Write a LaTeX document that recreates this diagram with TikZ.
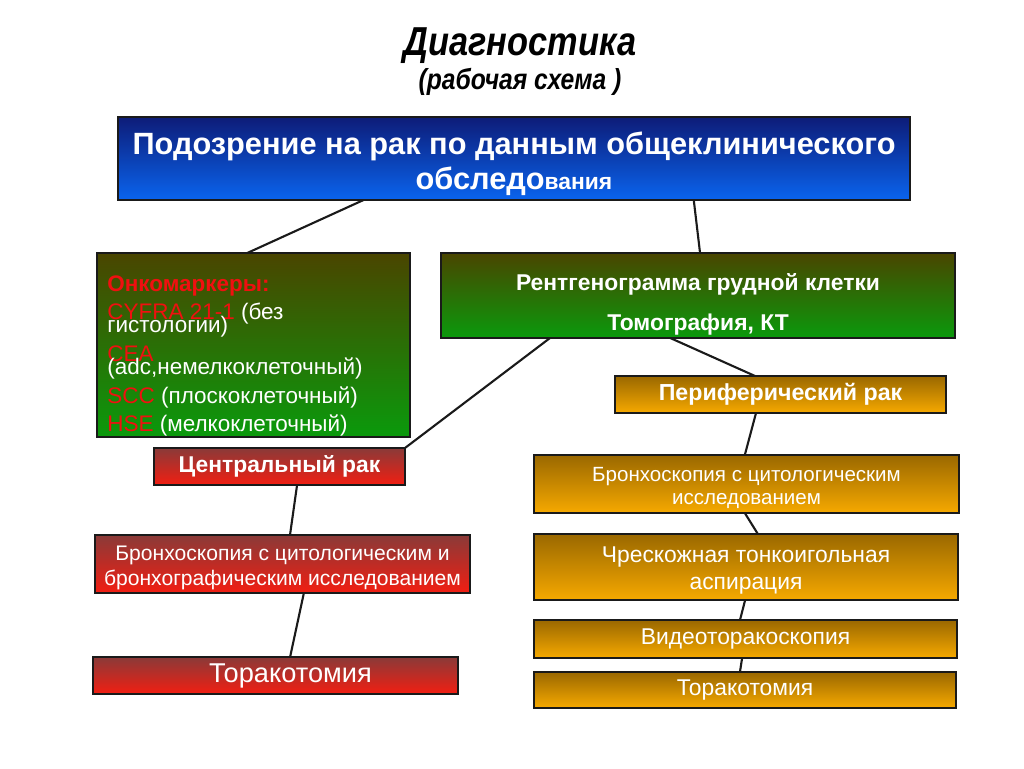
\documentclass[tikz,border=0pt]{standalone}
\usepackage{fontspec}
\setmainfont{Liberation Sans}
\usepackage{tikz}
\usetikzlibrary{calc, positioning}
\definecolor{Ink}{HTML}{1A1A1A}
\definecolor{BlueTop}{HTML}{0D1C78}
\definecolor{BlueBot}{HTML}{0A64EE}
\definecolor{GreenTop}{HTML}{4A4500}
\definecolor{GreenBot}{HTML}{0A9A0C}
\definecolor{AmberTop}{HTML}{9A6800}
\definecolor{AmberBot}{HTML}{F6A900}
\definecolor{RedTop}{HTML}{8A3A38}
\definecolor{RedBot}{HTML}{F21E12}
\definecolor{Marker}{HTML}{F01010}
\newcommand{\tightlines}{\setlength{\lineskiplimit}{-100pt}}

\begin{document}
\begin{tikzpicture}[
  x=0.02cm, y=-0.02cm,
  box/.style={draw=Ink, line width=0.8pt, inner sep=1pt, outer sep=0pt, align=center, text=white},
  start/.style={box, top color=BlueTop, bottom color=BlueBot},
  exam/.style={box, top color=GreenTop, bottom color=GreenBot},
  central/.style={box, top color=RedTop, bottom color=RedBot},
  periph/.style={box, top color=AmberTop, bottom color=AmberBot},
  link/.style={draw=Ink, line width=1.2pt}
]
\useasboundingbox (0,0) rectangle (1024,768);

\node[font=\fontsize{23}{26}\selectfont\bfseries\itshape\addfontfeature{FakeStretch=0.85}] (title) at (520,46) {Диагностика};
\node[font=\fontsize{16.5}{18}\selectfont\bfseries\itshape\addfontfeature{FakeStretch=0.85}] (subtitle) at (520,82) {(рабочая схема )};

\node[start, minimum width=15.84cm, minimum height=1.66cm, font=\fontsize{17.5}{20}\selectfont\bfseries] (susp) at (514,158.5)
  {\rule{0pt}{19pt}Подозрение на рак по данным общеклинического\\обследо{\fontsize{13}{20}\selectfont вания}};

\node[exam, minimum width=6.26cm, minimum height=3.68cm] (mark) at (253.5,345) {};
\node[anchor=north west, inner sep=0pt, align=left, text=white, font=\fontsize{12.8}{7.6}\selectfont\tightlines] (marktext) at (107,275)
  {\textcolor{Marker}{\bfseries Онкомаркеры:}\\[8.6pt]
   \textcolor{Marker}{CYFRA 21-1} (без\\
   гистологии)\\[8.6pt]
   \textcolor{Marker}{CEA}\\
   (adc,немелкоклеточный)\\[8.6pt]
   \textcolor{Marker}{SCC} (плоскоклеточный)\\[8.6pt]
   \textcolor{Marker}{HSE} (мелкоклеточный)};
\node[exam, minimum width=10.28cm, minimum height=1.70cm, font=\fontsize{13}{22.7}\selectfont\bfseries] (xray) at (698,295.5)
  {\rule{0pt}{20pt}Рентгенограмма грудной клетки\\Томография, КТ};

\node[central, minimum width=5.02cm, minimum height=0.74cm, font=\fontsize{13}{15}\selectfont\bfseries] (crak) at (279.5,466.5) {Центральный рак};
\node[central, minimum width=7.5cm, minimum height=1.16cm, font=\fontsize{12}{14.5}\selectfont] (cbronch) at (282.5,564)
  {\rule{0pt}{13pt}Бронхоскопия с цитологическим и\\бронхографическим исследованием};
\node[central, minimum width=7.3cm, minimum height=0.74cm, font=\fontsize{15.5}{17}\selectfont] (ctorak) at (275.5,675.5) {\hspace*{0.6cm}Торакотомия};

\node[periph, minimum width=6.62cm, minimum height=0.74cm, font=\fontsize{13.2}{15}\selectfont\bfseries] (prak) at (780.5,394.5) {Периферический рак};
\node[periph, minimum width=8.5cm, minimum height=1.16cm, font=\fontsize{11.7}{13.5}\selectfont] (pbronch) at (746.5,484)
  {\rule{0pt}{12.5pt}Бронхоскопия с цитологическим\\исследованием};
\node[periph, minimum width=8.48cm, minimum height=1.32cm, font=\fontsize{13}{15.5}\selectfont] (aspir) at (746,567)
  {\rule{0pt}{13pt}Чрескожная тонкоигольная\\аспирация};
\node[periph, minimum width=8.46cm, minimum height=0.76cm, font=\fontsize{13}{15}\selectfont] (video) at (745.5,639) {Видеоторакоскопия};
\node[periph, minimum width=8.44cm, minimum height=0.72cm, font=\fontsize{13}{15}\selectfont] (ptorak) at (745,690) {Торакотомия};

\draw[link] ($(susp.south west)!0.31!(susp.south east)$) -- ($(mark.north west)!0.48!(mark.north east)$);
\draw[link] ($(susp.south west)!0.727!(susp.south east)$) -- ($(xray.north west)!0.504!(xray.north east)$);
\draw[link] ($(xray.south west)!0.212!(xray.south east)$) -- (crak.north east);
\draw[link] ($(xray.south west)!0.446!(xray.south east)$) -- ($(prak.north west)!0.423!(prak.north east)$);
\draw[link] ($(prak.south west)!0.426!(prak.south east)$) -- ($(pbronch.north west)!0.496!(pbronch.north east)$);
\draw[link] ($(pbronch.south west)!0.496!(pbronch.south east)$) -- ($(aspir.north west)!0.528!(aspir.north east)$);
\draw[link] ($(aspir.south west)!0.498!(aspir.south east)$) -- ($(video.north west)!0.487!(video.north east)$);
\draw[link] ($(video.south west)!0.492!(video.south east)$) -- ($(ptorak.north west)!0.488!(ptorak.north east)$);
\draw[link] ($(crak.south west)!0.57!(crak.south east)$) -- ($(cbronch.north west)!0.52!(cbronch.north east)$);
\draw[link] ($(cbronch.south west)!0.557!(cbronch.south east)$) -- ($(ctorak.north west)!0.54!(ctorak.north east)$);
\end{tikzpicture}
\end{document}
